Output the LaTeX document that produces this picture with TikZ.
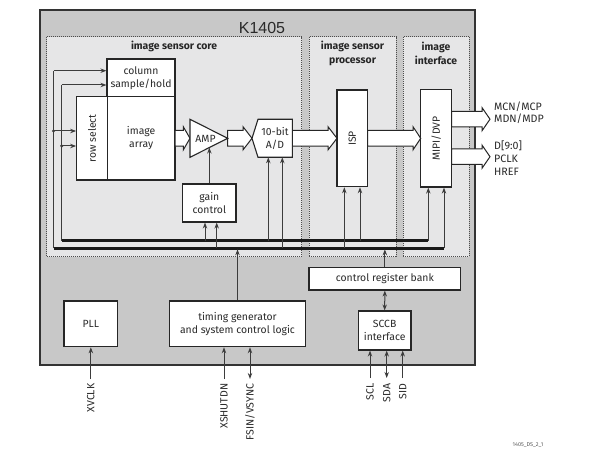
\documentclass[tikz,border=0pt]{standalone}
\usepackage{fontspec}
\setmainfont{Fira Sans}
\newfontfamily\arialfont{Liberation Sans}
\usetikzlibrary{arrows.meta}
\definecolor{outerfill}{HTML}{C8C8C8}
\definecolor{innerfill}{HTML}{E6E6E7}
\definecolor{lineclr}{HTML}{3C3C3C}
\definecolor{txt}{HTML}{2A2A2A}
\newcommand{\blockarr}[4]{%
  \draw[blk] (#1,#4-7.8) -- (#2,#4-7.8) -- (#2,#4-11.6) -- (#3,#4) -- (#2,#4+11.6) -- (#2,#4+7.8) -- (#1,#4+7.8) -- cycle;}
\begin{document}
\begin{tikzpicture}[x=1pt,y=-1pt,
  box/.style={draw=black!85, line width=1.1pt, fill=white, inner sep=0pt, align=center,
    font=\fontsize{10.4}{12.8}\selectfont, text=txt},
  region/.style={draw=black!70, line width=0.9pt, dash pattern=on 1pt off 1pt, fill=innerfill},
  sig/.style={draw=lineclr, line width=1pt},
  arr/.style={sig, -{Stealth[length=6pt,width=4.4pt]}},
  darr/.style={sig, {Stealth[length=6pt,width=4.4pt]}-{Stealth[length=6pt,width=4.4pt]}},
  bus/.style={draw=black!90, line width=2.6pt},
  blk/.style={draw=black!85, line width=1pt, fill=white, line join=miter},
  title/.style={font=\bfseries\fontsize{10.4}{13.3}\selectfont, text=black!85, align=center, inner sep=0pt},
  pin/.style={font=\fontsize{10.5}{12}\selectfont, text=txt, rotate=90, anchor=east, inner sep=0pt},
  outlbl/.style={font=\fontsize{10.7}{12}\selectfont, text=txt, anchor=west, inner sep=0pt},
]
\useasboundingbox (0,0) rectangle (607,454);
\fill[white] (0,0) rectangle (607,454);
% outer chip
\draw[fill=outerfill, draw=black!80, line width=1.3pt] (40,10) rectangle (475,365);
\node[font=\arialfont\fontsize{16}{18}\selectfont, text=txt] (chip) at (262,28) {K1405};
% regions
\draw[region] (46.7,36.7) rectangle (301.7,256.5);
\draw[region] (309,36.7) rectangle (396,256.5);
\draw[region] (403,36.7) rectangle (469,256.5);
\node[title] (tcore) at (174,46.5) {image sensor core};
\node[title] (tisp) at (352.5,53.3) {image sensor\\processor};
\node[title] (tif) at (436,53.3) {image\\interface};

% buses
\coordinate (busLa) at (53.5,248.3);
\coordinate (busLb) at (444,248.3);
\coordinate (busUa) at (61.7,240.7);
\coordinate (busUb) at (428.3,240.7);

% boxes
\node[box, minimum width=68, minimum height=37.7] (col) at (141,77.85) {column\\sample/hold};
\node[box, rotate=90, minimum width=83.3, minimum height=30.6] (row) at (92,138.35) {row select};
\node[box, minimum width=67.7, minimum height=83.3] (array) at (141.15,138.35) {image\\array};
\node[box, minimum width=53.3, minimum height=38] (gain) at (209.35,203) {gain\\control};
\node[box, rotate=90, minimum width=96.7, minimum height=30.7] (isp) at (352.35,138.35) {ISP};
\node[box, rotate=90, minimum width=97.5, minimum height=31] (mipi) at (436.2,138.3) {MIPI/DVP};
\node[box, minimum width=151.7, minimum height=22.7] (ctrl) at (384.85,278.65) {control register bank};
\node[box, minimum width=52.7, minimum height=39] (sccb) at (384.65,330.5) {SCCB\\interface};
\node[box, minimum width=53.7, minimum height=45.7] (pll) at (90.85,323.85) {PLL};
\node[box, minimum width=136.4, minimum height=45.7] (timing) at (237.5,323.85) {timing generator\\and system control logic};

% block arrows
\blockarr{175}{183.3}{190}{138.3}
\blockarr{227.7}{243}{252}{138.3}
\blockarr{292.3}{328}{337}{138.3}
\blockarr{367.7}{413}{420.7}{138.3}
\blockarr{451.7}{482}{490}{119.2}
\blockarr{451.7}{482}{490}{156.7}

% AMP and A/D
\draw[blk, line width=1.1pt] (190,119.3) -- (227.7,138.3) -- (190,157.3) -- cycle;
\node[font=\fontsize{10.4}{12}\selectfont, text=txt, inner sep=0pt] (amp) at (205.5,138.5) {AMP};
\draw[blk, line width=1.1pt] (258,119.3) -- (292.3,119.3) -- (292.3,157.3) -- (258,157.3) -- (252,138.3) -- cycle;
\node[font=\fontsize{10.4}{12.8}\selectfont, text=txt, align=center, inner sep=0pt] (adc) at (275,138.3) {10-bit\\A/D};
\coordinate (adcb) at (275,157.3);
\coordinate (ampin) at (209.35,147.6);

% buses
\draw[bus] (busLa) -- (busLb);
\draw[bus] (busUa) -- (busUb);

% left control lines
\coordinate (c1) at (53.5,70.7);
\coordinate (c2) at (61.7,85);
\coordinate (d1) at (53.5,131);
\coordinate (d2) at (61.7,146);
\draw[sig] (busLa) -- (c1);
\draw[sig] (busUa) -- (c2);
\draw[arr] (c1) -- (c1 -| col.west);
\draw[arr] (c2) -- (c2 -| col.west);
\draw[arr] (d1) -- (d1 -| row.north);
\draw[arr] (d2) -- (d2 -| row.north);
\fill[lineclr] (d1) circle (1.7);
\fill[lineclr] (d2) circle (1.7);

% gain
\coordinate (g1) at (205,240.7);
\coordinate (g2) at (216.7,248.3);
\draw[arr] (g1) -- (g1 |- gain.south);
\draw[arr] (g2) -- (g2 |- gain.south);
\draw[arr] (gain.north) -- (ampin);
% A/D
\coordinate (a1) at (268.3,240.7);
\coordinate (a2) at (282.3,248.3);
\draw[arr] (a1) -- (a1 |- adcb);
\draw[arr] (a2) -- (a2 |- adcb);
% ISP
\coordinate (i1) at (344.3,248.3);
\coordinate (i2) at (360,240.7);
\draw[arr] (i1) -- (i1 |- isp.west);
\draw[arr] (i2) -- (i2 |- isp.west);
% MIPI
\draw[arr] (busUb) -- (busUb |- mipi.west);
\draw[arr] (busLb) -- (busLb |- mipi.west);
% timing and control to bus
\draw[arr, shorten >=1pt] (timing.north) -- (timing.north |- busLa);
\draw[arr, shorten >=1pt] (ctrl.north) -- (ctrl.north |- busLa);
\draw[darr] (ctrl.south) -- (sccb.north);

% output labels
\node[outlbl] (mcn) at (494,106.5) {MCN/MCP};
\node[outlbl] (mdn) at (494,118.8) {MDN/MDP};
\node[outlbl] (dd) at (494,145.5) {D[9:0]};
\node[outlbl] (pclk) at (494,158.5) {PCLK};
\node[outlbl] (href) at (494,171.5) {HREF};

% pins
\node[pin] (xvclk) at (90.85,383.5) {XVCLK};
\node[pin] (xshut) at (224,383.5) {XSHUTDN};
\node[pin] (fsin) at (250,383.5) {FSIN/VSYNC};
\node[pin] (scl) at (370,383.5) {SCL};
\node[pin] (sda) at (386.7,383.5) {SDA};
\node[pin] (sid) at (402.7,383.5) {SID};
\coordinate (p1) at (90.85,379);
\coordinate (p2) at (224,379);
\coordinate (p3) at (250,379);
\coordinate (p4) at (370,378);
\coordinate (p5) at (386.7,378);
\coordinate (p6) at (402.7,378);
\draw[arr] (p1) -- (pll.south);
\draw[arr] (p2) -- (p2 |- timing.south);
\draw[darr] (p3) -- (p3 |- timing.south);
\draw[arr] (p4) -- (p4 |- sccb.south);
\draw[darr] (p5) -- (p5 |- sccb.south);
\draw[arr] (p6) -- (p6 |- sccb.south);

\node[font=\fontsize{5.5}{6}\selectfont, text=black!65] (fig) at (528,445) {1405\_DS\_2\_1};
\end{tikzpicture}
\end{document}
